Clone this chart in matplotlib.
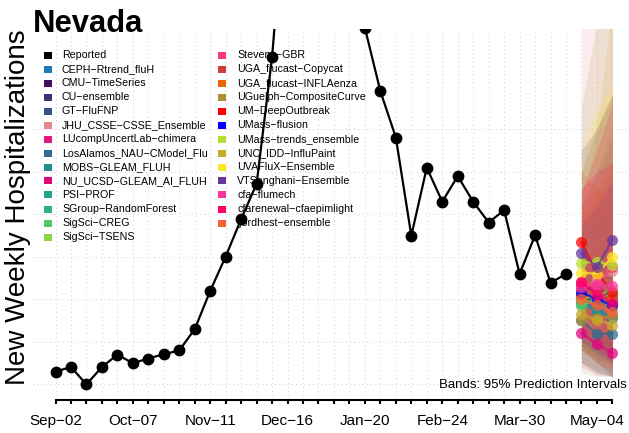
import numpy as np
import matplotlib
matplotlib.use("Agg")
import matplotlib.pyplot as plt
from matplotlib.patches import Rectangle

plt.rcParams["font.family"] = ["Liberation Sans", "DejaVu Sans"]

# ── data ──────────────────────────────────────────────────────────
week_labels = ["Sep-02", "Oct-07", "Nov-11", "Dec-16",
               "Jan-20", "Feb-24", "Mar-30", "May-04"]
n_weeks_axis = 37            # weekly ticks Sep-02 .. May-11

reported = [129, 140, 99, 140, 169, 149, 160, 170, 179, 229, 319, 400,
            488, 571, 869, 1310, 1590, 1660, 1470, 1190, 938, 789, 680,
            449, 609, 529, 589, 529, 480, 509, 359, 450, 338, 359]

horizon_weeks = [34, 35, 36]

models = ["CEPH-Rtrend_fluH", "CMU-TimeSeries", "CU-ensemble", "GT-FluFNP",
          "JHU_CSSE-CSSE_Ensemble", "LUcompUncertLab-chimera",
          "LosAlamos_NAU-CModel_Flu", "MOBS-GLEAM_FLUH",
          "NU_UCSD-GLEAM_AI_FLUH", "PSI-PROF", "SGroup-RandomForest",
          "SigSci-CREG", "SigSci-TSENS", "Stevens-GBR",
          "UGA_flucast-Copycat", "UGA_flucast-INFLAenza",
          "UGuelph-CompositeCurve", "UM-DeepOutbreak", "UMass-flusion",
          "UMass-trends_ensemble", "UNC_IDD-InfluPaint", "UVAFluX-Ensemble",
          "VTSanghani-Ensemble", "cfa-flumech", "cfarenewal-cfaepimlight",
          "fjordhest-ensemble"]

model_colors = ["#1f7bb6", "#45105e", "#482c7c", "#3b4f8a", "#e8888f",
                "#e0197e", "#2f6b8e", "#21918c", "#e0067f", "#20a286",
                "#2eb27a", "#52c569", "#86d549", "#f8387a", "#d13b3b",
                "#e8650a", "#ad8f35", "#ff0000", "#0000ff", "#b5df2e",
                "#c9a82a", "#fde725", "#6a359c", "#f7369a", "#ff0066",
                "#f76234"]

fc_median = [[295, 275, 255], [330, 320, 310], [315, 300, 295],
             [305, 295, 285], [320, 345, 365], [335, 320, 300],
             [250, 218, 218], [290, 270, 260], [220, 194, 173],
             [300, 290, 300], [290, 300, 280], [283, 300, 310],
             [300, 310, 320], [340, 330, 375], [325, 310, 300],
             [310, 305, 295], [250, 255, 260], [434, 361, 316],
             [315, 300, 285], [385, 387, 380], [265, 250, 240],
             [361, 360, 399], [408, 375, 439], [328, 335, 330],
             [340, 310, 290], [300, 285, 270]]

fc_lower = [[150, 130, 118], [200, 180, 160], [190, 150, 116],
            [180, 160, 140], [170, 160, 150], [200, 180, 150],
            [150, 125, 118], [180, 150, 130], [140, 122, 118],
            [190, 170, 170], [200, 190, 170], [180, 170, 160],
            [200, 190, 190], [220, 200, 220], [180, 150, 120],
            [190, 160, 140], [125, 118, 118], [300, 220, 170],
            [200, 170, 150], [250, 220, 200], [150, 130, 118],
            [250, 220, 230], [280, 220, 240], [200, 180, 170],
            [220, 180, 150], [180, 150, 130]]

fc_upper = [[520, 600, 680], [480, 540, 600], [470, 520, 580],
            [460, 520, 580], [1100, 1000, 950], [520, 560, 620],
            [400, 420, 450], [450, 480, 530], [350, 330, 320],
            [460, 500, 560], [400, 450, 460], [450, 560, 680],
            [480, 600, 720], [520, 600, 700], [600, 700, 780],
            [550, 650, 760], [750, 950, 1100], [600, 560, 540],
            [480, 520, 580], [600, 720, 780], [500, 700, 1000],
            [650, 750, 800], [650, 700, 780], [550, 650, 760],
            [560, 600, 620], [500, 560, 620]]

grid_values = [100, 200, 300, 400, 500, 600, 700]

# ── figure ────────────────────────────────────────────────────────
W, H = 629, 433
fig = plt.figure(figsize=(W / 100, H / 100), dpi=100)
ax = fig.add_axes([33 / W, 1 - 400 / H, 1 - 33 / W, (400 - 29) / H])


def fx(px):
    return px / W


def fy(py):
    return 1 - py / H


# grid
for w in range(n_weeks_axis):
    ax.axvline(w, color="lightgray", lw=0.75, ls=(0, (1, 3)), zorder=0)
for g in grid_values:
    ax.axhline(g, color="lightgray", lw=0.75, ls=(0, (1, 3)), zorder=0)

# legend (drawn under the data line, no frame)
legend_names = ["Reported"] + models
legend_cols = ["black"] + model_colors
for i, (name, col) in enumerate(zip(legend_names, legend_cols)):
    c, r = (0, i) if i < 14 else (1, i - 14)
    mx = 48 if c == 0 else 222
    tx = 62 if c == 0 else 237
    py = 55 + 14 * r
    ax.add_patch(Rectangle((fx(mx - 4), fy(py + 3.5)), 8 / W, 7 / H,
                           transform=fig.transFigure, facecolor=col,
                           edgecolor="none", clip_on=False, zorder=1))
    ax.text(fx(tx), fy(py), name.replace("-", "\u2212"), fontsize=7.7,
            va="center", ha="left", transform=fig.transFigure, zorder=1)

# prediction bands
for lo, hi, col in zip(fc_lower, fc_upper, model_colors):
    ax.fill_between(horizon_weeks, lo, hi, color=col, alpha=0.15,
                    lw=0, zorder=2)

# forecast medians
for med, col in zip(fc_median, model_colors):
    ax.plot(horizon_weeks, med, color=col, lw=1.6, alpha=0.75,
            marker="o", ms=8, mec="none", zorder=3)

# reported
ax.plot(np.arange(len(reported)), reported, color="black", lw=1.6,
        marker="o", ms=7.5, zorder=4)

ax.text(fx(627), fy(388), "Bands: 95% Prediction Intervals", fontsize=9.5,
        ha="right", va="baseline", transform=fig.transFigure, zorder=5)

ax.set_xlim((33 - 55.5) / 15.47, (629 - 55.5) / 15.47)
ax.set_ylim(100 - 16 / 0.425, 100 + 355 / 0.425)

ax.set_xticks(range(n_weeks_axis))
ax.set_xticklabels([week_labels[w // 5].replace("-", "\u2212")
                    if w % 5 == 0 and w // 5 < len(week_labels) else ""
                    for w in range(n_weeks_axis)], fontsize=11)
ax.tick_params(axis="x", length=3, width=1.5, pad=7)
ax.set_yticks([])
for s in ["top", "right", "left"]:
    ax.spines[s].set_visible(False)
ax.spines["bottom"].set_bounds(0, n_weeks_axis - 1)
ax.spines["bottom"].set_linewidth(1.5)
ax.patch.set_alpha(0)

fig.text(fx(33), fy(32), "Nevada", fontsize=22.3, fontweight="bold",
         ha="left", va="baseline")
fig.text(fx(18.5), fy(207), "New Weekly Hospitalizations", fontsize=20,
         rotation=90, ha="center", va="center")

fig.savefig("out.png", dpi=100)
